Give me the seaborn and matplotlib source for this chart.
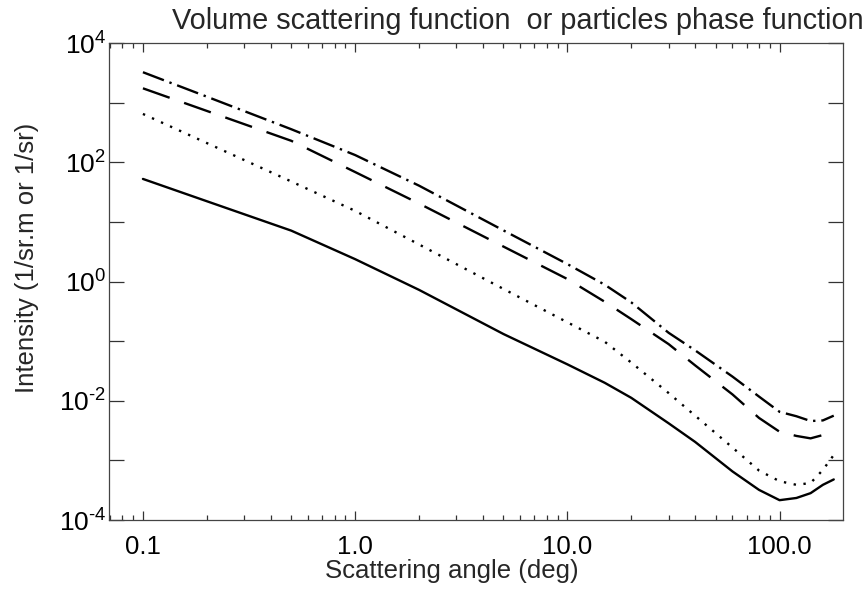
import matplotlib
matplotlib.use("Agg")
import matplotlib.pyplot as plt
import seaborn as sns
from matplotlib.ticker import FixedLocator, FixedFormatter, LogLocator, NullFormatter, NullLocator

# Daten
angle = [0.1, 0.2, 0.5, 1, 2, 5, 10, 15, 20, 30, 40, 60, 80, 100, 120, 140, 160, 180]
solid = [52.5, 22.2, 7.13, 2.37, 0.724, 0.1315, 0.0408, 0.0200, 0.0112, 4.19e-3, 2.04e-3,
         6.52e-4, 3.20e-4, 2.15e-4, 2.34e-4, 2.82e-4, 3.89e-4, 4.79e-4]
dotted = [646, 210, 47.6, 15.3, 4.18, 0.750, 0.207, 0.0977, 0.0437, 0.01346, 5.62e-3,
          1.64e-3, 6.75e-4, 4.47e-4, 3.89e-4, 4.17e-4, 6.92e-4, 1.23e-3]
dashed = [1738, 726, 229, 68.5, 20.3, 3.85, 1.10, 0.457, 0.234, 0.0891, 0.0392,
          0.01276, 5.15e-3, 3.02e-3, 2.57e-3, 2.34e-3, 2.66e-3, 3.24e-3]
dashdot = [3236, 1259, 358, 132, 40.5, 7.19, 1.96, 0.883, 0.447, 0.138, 0.0700,
           0.0254, 0.01175, 6.52e-3, 5.50e-3, 4.57e-3, 4.68e-3, 5.62e-3]

x_ticks = [0.1, 1, 10, 100]
x_tick_labels = ["0.1", "1.0", "10.0", "100.0"]
y_ticks = [1e-4, 1e-3, 1e-2, 1e-1, 1e0, 1e1, 1e2, 1e3, 1e4]
y_tick_labels = [r"10$^{\text{-}4}$", "", r"10$^{\text{-}2}$", "", r"10$^{0}$", "",
                 r"10$^{2}$", "", r"10$^{4}$"]

sns.set_theme(style="white")
plt.rcParams["font.family"] = ["Liberation Sans", "DejaVu Sans"]
plt.rcParams["mathtext.fontset"] = "custom"
plt.rcParams["mathtext.rm"] = "Liberation Sans"
plt.rcParams["mathtext.it"] = "Liberation Sans"

fig = plt.figure(figsize=(8.64, 5.92), dpi=100)
ax = fig.add_axes([109 / 864, 1 - 520 / 592, 734 / 864, 477 / 592])

styles = [
    (solid, "-"),
    (dotted, (0, (1, 3.2))),
    (dashed, (0, (12, 6.5))),
    (dashdot, (0, (9.5, 2.5, 1, 2.5))),
]
for vals, ls in styles:
    sns.lineplot(x=angle, y=vals, ax=ax, color="black", lw=1.7, linestyle=ls)

ax.set_xscale("log")
ax.set_yscale("log")
ax.set_xlim(0.0692, 199)
ax.set_ylim(1e-4, 1e4)

ax.xaxis.set_major_locator(FixedLocator(x_ticks))
ax.xaxis.set_major_formatter(FixedFormatter(x_tick_labels))
ax.xaxis.set_minor_locator(LogLocator(base=10, subs=range(2, 10), numticks=20))
ax.xaxis.set_minor_formatter(NullFormatter())
ax.yaxis.set_major_locator(FixedLocator(y_ticks))
ax.yaxis.set_major_formatter(FixedFormatter(y_tick_labels))
ax.yaxis.set_minor_locator(NullLocator())

ax.tick_params(axis="both", which="both", direction="in", left=True, bottom=True,
               top=True, right=True, colors="#333333", labelcolor="black", width=0.9)
ax.tick_params(axis="x", which="major", length=6.5, pad=11, labelsize=18.5)
ax.tick_params(axis="x", which="minor", length=3.5)
ax.tick_params(axis="y", which="major", length=10.5, pad=2, labelsize=19)

for sp in ax.spines.values():
    sp.set_color("#444444")
    sp.set_linewidth(0.9)

ax.set_xlabel("Scattering angle (deg)", fontsize=18.5)
ax.xaxis.set_label_coords((452 - 109) / 734, -(571 - 520) / 477)
ax.xaxis.label.set_va("center")
ax.set_ylabel("Intensity (1/sr.m or 1/sr)", fontsize=18.5)
ax.yaxis.set_label_coords((27 - 109) / 734, (520 - 258) / 477)
ax.yaxis.label.set_va("center")

fig.text(517.5 / 864, 1 - 29 / 592, "Volume scattering function  or particles phase function",
         ha="center", va="baseline", fontsize=20.8)

fig.savefig("out.png", dpi=100)
